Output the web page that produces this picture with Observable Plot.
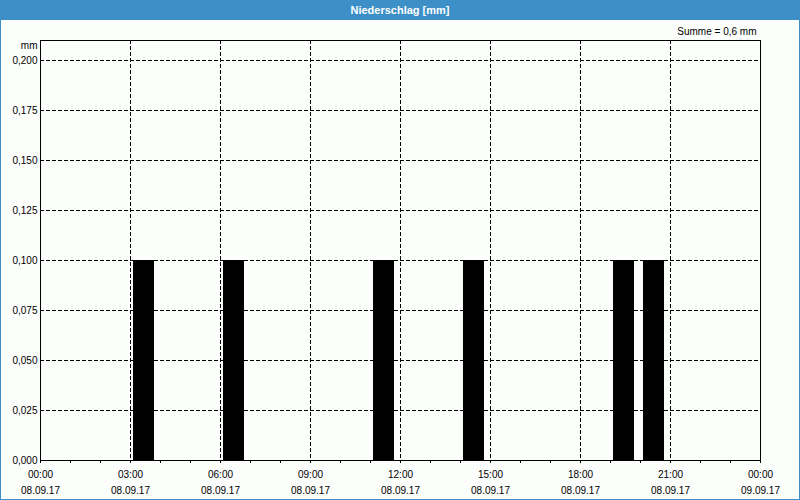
<!DOCTYPE html>
<html>
<head>
<meta charset="utf-8">
<script src="https://cdn.jsdelivr.net/npm/d3@7"></script>
<script src="https://cdn.jsdelivr.net/npm/@observablehq/plot@0.6"></script>
<style>
  html, body { margin: 0; padding: 0; background: #fff; }
  #wrap { width: 800px; height: 500px; box-sizing: border-box; border: 1px solid #3c8fc7; border-top: none; background: #fcfefc; position: relative; overflow: hidden; }
  #title { height: 20px; background: #3c8fc7; color: #fff; font: bold 11px "Liberation Sans", Arial, sans-serif; text-align: center; line-height: 20px; margin: 0 -1px; }
  svg { display: block; }
</style>
</head>
<body>
<div id="wrap">
  <div id="title">Niederschlag [mm]</div>
  <div id="chart"></div>
</div>
<script>
// Data
const title = "Niederschlag [mm]";
const sumLabel = "Summe = 0,6 mm";
const unitLabel = "mm";
const dayStart = "2017-09-08T00:00:00Z";
const dayEnd = "2017-09-09T00:00:00Z";
const rainHours = ["03:00", "06:00", "11:00", "14:00", "19:00", "20:00"];
const rainValues = [0.1, 0.1, 0.1, 0.1, 0.1, 0.1];
const yTicks = [0, 0.025, 0.05, 0.075, 0.1, 0.125, 0.15, 0.175, 0.2];

const t0 = new Date(dayStart);
const t1 = new Date(dayEnd);
const rows = rainHours.map((h, i) => {
  const start = new Date(`2017-09-08T${h}:00Z`);
  return { start, end: d3.utcHour.offset(start, 1), value: rainValues[i] };
});

const majorTicks = d3.utcHour.every(3).range(t0, d3.utcHour.offset(t1, 1));
const minorTicks = d3.utcHour.range(t0, d3.utcHour.offset(t1, 1));
const innerGrid = majorTicks.filter(d => +d !== +t0 && +d !== +t1);
const fmtH = d3.utcFormat("%H:%M");
const fmtD = d3.utcFormat("%d.%m.%y");
const fmtY = d => d3.format(".3f")(d).replace(".", ",");

const chart = Plot.plot({
  width: 798,
  height: 480,
  marginLeft: 39,
  marginRight: 39,
  marginTop: 20,
  marginBottom: 40,
  style: { fontFamily: "'Liberation Sans', Arial, sans-serif", fontSize: "10px", color: "#000", background: "transparent" },
  x: { type: "utc", domain: [t0, t1] },
  y: { domain: [0, 0.21] },
  marks: [
    Plot.gridY(yTicks.filter(d => d > 0), { stroke: "#000", strokeOpacity: 1, strokeDasharray: "4,2" }),
    Plot.gridX(innerGrid, { stroke: "#000", strokeOpacity: 1, strokeDasharray: "4,2" }),
    Plot.rectY(rows, { x1: "start", x2: "end", y: "value", fill: "#000", insetLeft: 3, insetRight: 6 }),
    Plot.frame({ stroke: "#000" }),
    Plot.axisY({ ticks: yTicks, tickFormat: fmtY, tickSize: 0, tickPadding: 3, label: null, fill: "#000" }),
    Plot.axisX({ ticks: minorTicks, tickSize: 3, text: null, label: null, stroke: "#000" }),
    Plot.axisX({ ticks: majorTicks, tickSize: 0, tickPadding: 6, tickFormat: d => fmtH(d) + "\n" + fmtD(d), lineHeight: 1.6, label: null, fill: "#000" }),
    Plot.text([unitLabel], { frameAnchor: "top-left", textAnchor: "end", lineAnchor: "middle", dx: -3, dy: 5, fill: "#000" }),
    Plot.text([sumLabel], { frameAnchor: "top-right", textAnchor: "end", lineAnchor: "middle", dx: -4, dy: -9, fill: "#000" })
  ]
});
document.getElementById("chart").appendChild(chart);
</script>
</body>
</html>
